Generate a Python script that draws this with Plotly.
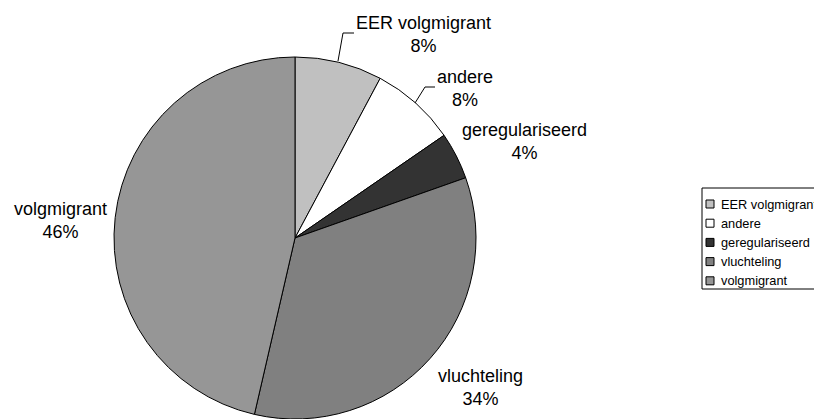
import plotly.graph_objects as go

labels = ["EER volgmigrant", "andere", "geregulariseerd", "vluchteling", "volgmigrant"]
values = [7.8, 7.6, 4.2, 34.0, 46.4]
colors = ["#C0C0C0", "#FFFFFF", "#333333", "#808080", "#969696"]

W, H = 814, 419

fig = go.Figure()
fig.add_trace(go.Pie(
    labels=labels, values=values, sort=False, direction="clockwise", rotation=0,
    marker=dict(colors=colors, line=dict(color="black", width=1)),
    textinfo="none", hoverinfo="label+percent", showlegend=False,
    domain=dict(x=[114 / W, 476 / W], y=[0, 362 / H]),
))

def px2x(x):
    return x / W

def px2y(y):
    return 1 - y / H

FONT = "Liberation Sans, Arial"
total = sum(values)
# label positions in pixels (layout only)
label_pos = [(423, 35), (465, 88), (524, 141), (480, 387), (60, 221)]
annotations = []
for lab, v, (px, py) in zip(labels, values, label_pos):
    annotations.append(dict(
        x=px2x(px), y=px2y(py), xref="paper", yref="paper",
        text=f"{lab}<br>{round(v / total * 100):.0f}%",
        showarrow=False, xanchor="center", yanchor="middle",
        font=dict(family=FONT, size=18, color="black"),
    ))

def pline(pts):
    path = "M " + " L ".join(f"{px2x(x)},{px2y(y)}" for x, y in pts)
    return dict(type="path", path=path, xref="paper", yref="paper",
                line=dict(color="black", width=1))

shapes = [pline([(338, 61), (343, 33), (354, 33)]),
          pline([(415, 103), (425, 87), (435, 87)])]

# custom legend (layout)
LX, LT, LB = 702, 188, 289
shapes.append(dict(type="rect", xref="paper", yref="paper",
                   x0=px2x(LX), x1=px2x(830), y0=px2y(LB), y1=px2y(LT),
                   line=dict(color="black", width=1), fillcolor="white", layer="above"))
for i, (lab, col) in enumerate(zip(labels, colors)):
    cy = 204 + 19.2 * i
    shapes.append(dict(type="rect", xref="paper", yref="paper",
                       x0=px2x(706), x1=px2x(714), y0=px2y(cy + 4), y1=px2y(cy - 4),
                       line=dict(color="black", width=1), fillcolor=col, layer="above"))
    annotations.append(dict(
        x=px2x(719), y=px2y(cy), xref="paper", yref="paper",
        text=lab, showarrow=False, xanchor="left", yanchor="middle",
        font=dict(family=FONT, size=12.8, color="black"),
    ))

fig.update_layout(
    width=W, height=H,
    margin=dict(l=0, r=0, t=0, b=0, autoexpand=False),
    paper_bgcolor="white", plot_bgcolor="white",
    font=dict(family=FONT, color="black"),
    shapes=shapes, annotations=annotations,
    showlegend=False,
)

fig.write_html("out.html", config={"displayModeBar": False},
               post_script="document.body.style.margin='0';document.body.style.overflow='hidden';")
